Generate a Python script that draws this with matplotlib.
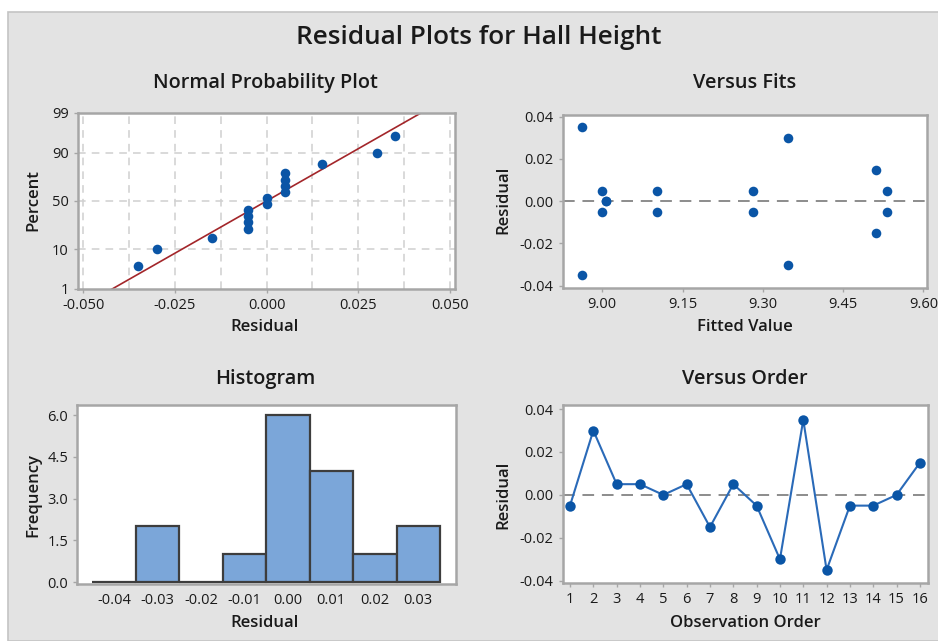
import numpy as np
import matplotlib
matplotlib.use("Agg")
import matplotlib.pyplot as plt
from matplotlib.patches import Rectangle
from statistics import NormalDist

plt.rcParams['font.family'] = ['Open Sans', 'DejaVu Sans']

# ---------------- data ----------------
observation = list(range(1, 17))
residuals = [-0.005, 0.030, 0.005, 0.005, 0.000, 0.005, -0.015, 0.005,
             -0.005, -0.030, 0.035, -0.035, -0.005, -0.005, 0.000, 0.015]
fitted = [9.000, 9.346, 9.000, 9.102, 9.006, 9.282, 9.511, 9.532,
          9.102, 9.346, 8.962, 8.962, 9.282, 9.532, 9.006, 9.511]
# normal probability plot (sorted residuals and plotting percentages)
npp_residual = [-0.035, -0.030, -0.015, -0.005, -0.005, -0.005, -0.005, 0.000,
                0.000, 0.005, 0.005, 0.005, 0.005, 0.015, 0.030, 0.035]
npp_percent = [4.3, 10.4, 16.5, 22.6, 28.7, 34.8, 40.9, 47.0,
               53.0, 59.1, 65.2, 71.3, 77.4, 83.5, 89.6, 95.7]
fit_mean = 0.0
fit_sd = 0.0181
# histogram
hist_centers = [-0.04, -0.03, -0.02, -0.01, 0.00, 0.01, 0.02, 0.03]
hist_counts = [0, 2, 0, 1, 6, 4, 1, 2]

npp_yticks = [1, 10, 50, 90, 99]
npp_xticks = [-0.050, -0.025, 0.000, 0.025, 0.050]
fits_xticks = [9.00, 9.15, 9.30, 9.45, 9.60]
res_yticks = [-0.04, -0.02, 0.00, 0.02, 0.04]
hist_yticks = [0.0, 1.5, 3.0, 4.5, 6.0]

# ---------------- style ----------------
W, H = 938, 641
BG = '#e3e3e3'
BLUE = '#0a55a6'
LINEBLUE = '#2a6ab8'
RED = '#a3262a'
SPINE = '#a6a6a6'
TXT = '#1a1a1a'

fig = plt.figure(figsize=(W / 100, H / 100), dpi=100)
fig.patch.set_facecolor('white')
bgrect = Rectangle((8 / W, 0), 1, 1 - 12 / H, transform=fig.transFigure,
                   facecolor=BG, edgecolor='#c4c4c4', linewidth=1.2, zorder=-10)
fig.patches.append(bgrect)


def add_ax(l, t, r, b):
    ax = fig.add_axes([l / W, 1 - b / H, (r - l) / W, (b - t) / H])
    ax.set_zorder(2)
    ax.set_facecolor('white')
    for s in ax.spines.values():
        s.set_color(SPINE)
        s.set_linewidth(1.8)
    ax.tick_params(colors=SPINE, labelcolor=TXT, labelsize=10.5, length=3, width=1)
    return ax


def px_label(ax, l, t, r, b, xl, xlx, xly, yl, ylx, yly):
    ax.set_xlabel(xl, fontsize=12, fontweight='semibold', color=TXT, va='center')
    ax.set_ylabel(yl, fontsize=12, fontweight='semibold', color=TXT, va='center')
    ax.xaxis.set_label_coords((xlx - l) / (r - l), (b - xly) / (b - t))
    ax.yaxis.set_label_coords((ylx - l) / (r - l), (b - yly) / (b - t))


fig.text(479 / W, 1 - 38 / H, 'Residual Plots for Hall Height', ha='center', va='center',
         fontsize=18.8, fontweight='semibold', color=TXT)
for txt, x, y in [('Normal Probability Plot', 265, 83), ('Versus Fits', 745, 83),
                  ('Histogram', 265, 379), ('Versus Order', 745, 379)]:
    fig.text(x / W, 1 - y / H, txt, ha='center', va='center', fontsize=14.3,
             fontweight='semibold', color=TXT)

# ---- Normal probability plot ----
inv = NormalDist().inv_cdf
cdf = NormalDist().cdf


def fwd(p):
    p = np.clip(np.asarray(p, dtype=float), 1e-6, 100 - 1e-6)
    return np.array([inv(v / 100.0) for v in p.ravel()]).reshape(p.shape)


def bwd(z):
    z = np.asarray(z, dtype=float)
    return np.array([cdf(v) * 100.0 for v in z.ravel()]).reshape(z.shape)


box = (77.7, 113, 455, 289)
ax1 = add_ax(*box)
ax1.set_yscale('function', functions=(fwd, bwd))
ax1.set_ylim(1, 99)
ax1.set_xlim(-0.0515, 0.0514)
ax1.set_yticks(npp_yticks)
ax1.set_yticklabels([str(v) for v in npp_yticks])
ax1.set_xticks(npp_xticks)
ax1.set_xticklabels(['-0.050', '-0.025', '0.000', '0.025', '0.050'])
ax1.yaxis.set_minor_locator(matplotlib.ticker.NullLocator())
for gx in np.arange(-0.050, 0.0501, 0.0125):
    ax1.axvline(gx, color='#d0d0d0', lw=1.1, ls=(0, (5, 4)), zorder=1)
for gy in [10, 50, 90]:
    ax1.axhline(gy, color='#d0d0d0', lw=1.1, ls=(0, (5, 4)), zorder=1)
pp = np.linspace(0.5, 99.5, 200)
line_x = fit_mean + fit_sd * fwd(pp)
ax1.plot(line_x, pp, color=RED, lw=1.2, zorder=2)
ax1.scatter(npp_residual, npp_percent, s=48, color=BLUE, zorder=3, linewidths=0)
px_label(ax1, *box, 'Residual', 265, 327, 'Percent', 33, 200)

# ---- Versus fits ----
box = (562.7, 115, 926.7, 288.3)
ax2 = add_ax(*box)
ax2.set_xlim(8.926, 9.606)
ax2.set_ylim(-0.0412, 0.0408)
ax2.set_xticks(fits_xticks)
ax2.set_xticklabels(['9.00', '9.15', '9.30', '9.45', '9.60'])
ax2.set_yticks(res_yticks)
ax2.set_yticklabels(['-0.04', '-0.02', '0.00', '0.02', '0.04'])
ax2.axhline(0, color='#8c8c8c', lw=1.4, ls=(0, (6, 4)), zorder=1)
ax2.scatter(fitted, residuals, s=48, color=BLUE, zorder=3, linewidths=0)
px_label(ax2, *box, 'Fitted Value', 745, 327, 'Residual', 503, 200)

# ---- Histogram ----
box = (77.3, 405, 455.7, 584.3)
ax3 = add_ax(*box)
ax3.set_xlim(-0.0484, 0.0386)
ax3.set_ylim(-0.08, 6.36)
ax3.bar(hist_centers, hist_counts, width=0.01, color='#7ba6d9', edgecolor='#3d3d3d',
        linewidth=1.6, zorder=2)
ax3.set_xticks(hist_centers)
ax3.set_xticklabels(['-0.04', '-0.03', '-0.02', '-0.01', '0.00', '0.01', '0.02', '0.03'])
ax3.set_yticks(hist_yticks)
ax3.set_yticklabels(['0.0', '1.5', '3.0', '4.5', '6.0'])
ax3.tick_params(axis='x', length=0, pad=6)
px_label(ax3, *box, 'Residual', 265, 623, 'Frequency', 33, 495)

# ---- Versus order ----
box = (562.7, 405, 928.3, 583.3)
ax4 = add_ax(*box)
ax4.set_xlim(0.687, 16.36)
ax4.set_ylim(-0.0412, 0.0419)
ax4.set_xticks(observation)
ax4.set_yticks(res_yticks)
ax4.set_yticklabels(['-0.04', '-0.02', '0.00', '0.02', '0.04'])
ax4.axhline(0, color='#8c8c8c', lw=1.4, ls=(0, (6, 4)), zorder=1)
ax4.plot(observation, residuals, color=LINEBLUE, lw=1.5, zorder=3)
ax4.plot(observation, residuals, ls='none', marker='o', ms=7.5, color=BLUE,
         markeredgewidth=0, zorder=4)
px_label(ax4, *box, 'Observation Order', 745, 623, 'Residual', 503, 495)

fig.savefig('out.png', dpi=100, facecolor=fig.get_facecolor())
